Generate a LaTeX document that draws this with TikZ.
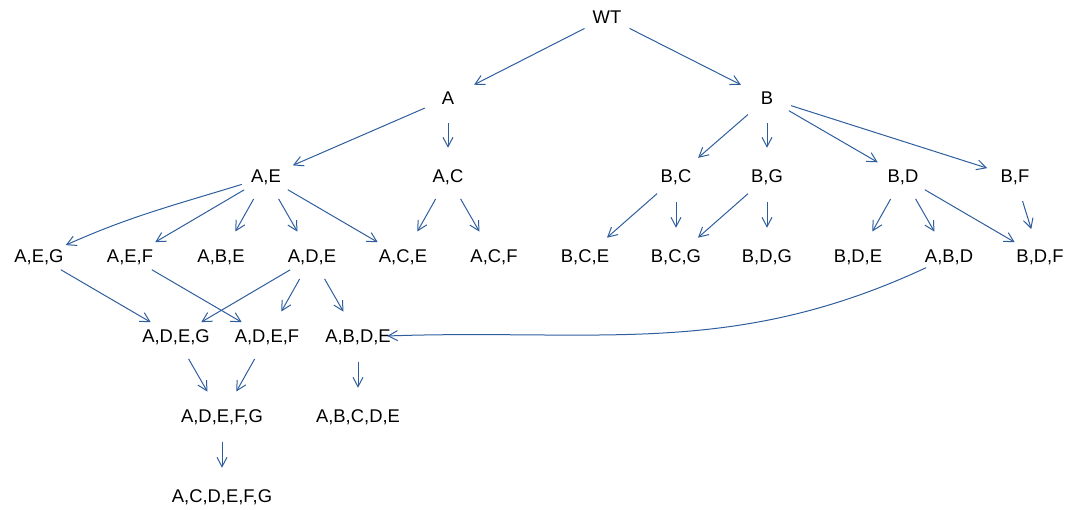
\documentclass[tikz,border=0pt]{standalone}
\usepackage{fontspec}
\setmainfont{Liberation Sans}
\usepackage{tikz}
\usetikzlibrary{arrows.meta}
\definecolor{gblue}{HTML}{2E5E9E}

\begin{document}
\begin{tikzpicture}[x=0.75pt, y=-0.75pt, font=\fontsize{13.8}{16}\selectfont,
  vtx/.style={circle, minimum size=37.5pt, inner sep=0pt},
  edge/.style={gblue, line width=0.75pt, shorten >=3pt,
    -{Straight Barb[length=7pt,width=7.5pt]}}]
\useasboundingbox (0,0) rectangle (1065,510);
% ---------- top: wild type and single mutants ----------
\node[vtx, label=center:WT] (WT) at (607,17) {};
\node[vtx, label=center:A] (A) at (448,98) {};
\node[vtx, label=center:B] (B) at (767,98) {};
% ---------- double mutants ----------
\node[vtx, label=center:{A,E}] (AE) at (266,177) {};
\node[vtx, label=center:{A,C}] (AC) at (448,177) {};
\node[vtx, label=center:{B,C}] (BC) at (676,177) {};
\node[vtx, label=center:{B,G}] (BG) at (767,177) {};
\node[vtx, label=center:{B,D}] (BD) at (903,177) {};
\node[vtx, label=center:{B,F}] (BF) at (1015,177) {};
% ---------- triple mutants ----------
\node[vtx, label=center:{A,E,G}] (AEG) at (39,257) {};
\node[vtx, label=center:{A,E,F}] (AEF) at (130,257) {};
\node[vtx, label=center:{A,B,E}] (ABE) at (221,257) {};
\node[vtx, label=center:{A,D,E}] (ADE) at (312,257) {};
\node[vtx, label=center:{A,C,E}] (ACE) at (403,257) {};
\node[vtx, label=center:{A,C,F}] (ACF) at (494,257) {};
\node[vtx, label=center:{B,C,E}] (BCE) at (585,257) {};
\node[vtx, label=center:{B,C,G}] (BCG) at (676,257) {};
\node[vtx, label=center:{B,D,G}] (BDG) at (767,257) {};
\node[vtx, label=center:{B,D,E}] (BDE) at (858,257) {};
\node[vtx, label=center:{A,B,D}] (ABD) at (949,257) {};
\node[vtx, label=center:{B,D,F}] (BDF) at (1040,257) {};
% ---------- four and more ----------
\node[vtx, label=center:{A,D,E,G}] (ADEG) at (176,337) {};
\node[vtx, label=center:{A,D,E,F}] (ADEF) at (267,337) {};
\node[vtx, label=center:{A,B,D,E}] (ABDE) at (358,337) {};
\node[vtx, label=center:{A,D,E,F,G}] (ADEFG) at (222,417) {};
\node[vtx, label=center:{A,B,C,D,E}] (ABCDE) at (358,417) {};
\node[vtx, label=center:{A,C,D,E,F,G}] (ACDEFG) at (222,497) {};
% ---------- edges ----------
\foreach \s/\t in {WT/A, WT/B, A/AE, A/AC, B/BC, B/BG, B/BD, B/BF,
    AE/AEF, AE/ABE, AE/ADE, AE/ACE, AC/ACE, AC/ACF, BC/BCE, BC/BCG,
    BG/BCG, BG/BDG, BD/BDE, BD/ABD, BD/BDF, BF/BDF, AEG/ADEG, AEF/ADEF,
    ADE/ADEG, ADE/ADEF, ADE/ABDE, ADEG/ADEFG, ADEF/ADEFG, ABDE/ABCDE,
    ADEFG/ACDEFG}
  \draw[edge] (\s) -- (\t);
\draw[edge] (AE) to[out=197, in=24] (AEG);
\draw[edge] (ABD) to[out=205, in=2] (ABDE);
\end{tikzpicture}
\end{document}
